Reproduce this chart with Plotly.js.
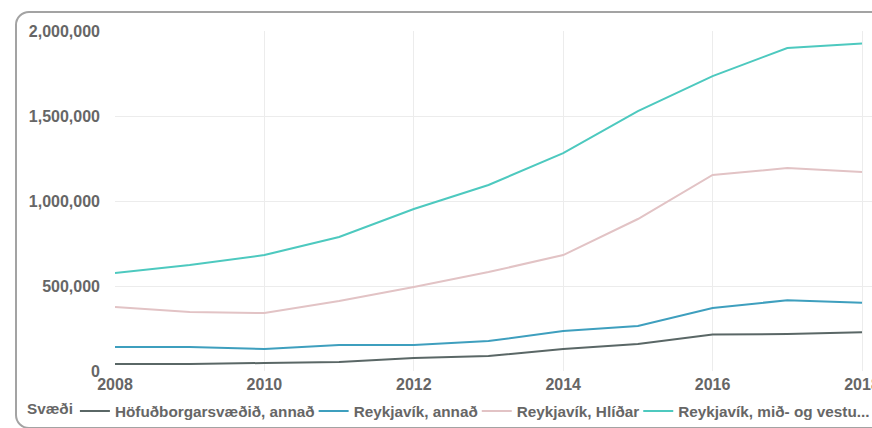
<!DOCTYPE html>
<html>
<head>
<meta charset="utf-8">
<script src="https://cdn.plot.ly/plotly-3.0.1.min.js"></script>
<style>
html,body{margin:0;padding:0;background:#fff;overflow:hidden;}
#wrap{position:relative;width:872px;height:428px;overflow:hidden;}
#chart{position:absolute;left:0;top:0;width:1100px;height:428px;}
#frame{position:absolute;left:15px;top:11px;width:900px;height:414px;border:2px solid #a3a3a3;border-radius:14px;pointer-events:none;}
</style>
</head>
<body>
<div id="wrap"><div id="chart"></div><div id="frame"></div></div>
<script>
const years = [2008, 2009, 2010, 2011, 2012, 2013, 2014, 2015, 2016, 2017, 2018];
const seriesNames = ["Höfuðborgarsvæðið, annað", "Reykjavík, annað", "Reykjavík, Hlíðar", "Reykjavík, mið- og vestu..."];
const hofudborgAnnad = [41000, 41000, 47000, 53000, 76000, 88000, 129000, 159000, 214000, 218000, 228000];
const reykjavikAnnad = [141000, 141000, 129000, 153000, 153000, 176000, 235000, 265000, 371000, 416000, 402000];
const reykjavikHlidar = [376000, 347000, 341000, 412000, 494000, 582000, 682000, 894000, 1153000, 1194000, 1170000];
const reykjavikMidVestur = [576000, 623000, 682000, 788000, 953000, 1094000, 1282000, 1529000, 1735000, 1900000, 1927000];
const colors = ["#5a6766", "#3e9fbe", "#e2c3c5", "#4dc9bf"];
const legendTitle = "Svæði";

const allValues = [hofudborgAnnad, reykjavikAnnad, reykjavikHlidar, reykjavikMidVestur];
const traces = allValues.map((vals, i) => ({
  type: "scatter",
  mode: "lines",
  x: years,
  y: vals,
  name: seriesNames[i],
  line: {color: colors[i], width: 2}
}));

// The original chart is wider than the visible window and cropped on the right:
// the plot area continues past the page edge, so the axis range runs past 2018.
const FIG_W = 1100, ML = 115, MR = 10, VISIBLE_END_PX = 862;
const pxPerYear = (VISIBLE_END_PX - ML) / (years[years.length - 1] - years[0]);
const xMax = years[0] + (FIG_W - ML - MR) / pxPerYear;

const font = {family: "Liberation Sans, Arial, sans-serif", size: 16, color: "#666666", weight: 700};
const legendFont = {family: "Liberation Sans, Arial, sans-serif", size: 15.3, color: "#666666", weight: 700};
const layout = {
  width: FIG_W, height: 428,
  margin: {l: ML, r: MR, t: 31, b: 57},
  paper_bgcolor: "#ffffff", plot_bgcolor: "#ffffff",
  font: font,
  showlegend: true,
  legend: {
    orientation: "h", xref: "container", yref: "container",
    x: 25 / FIG_W, xanchor: "left", y: 17 / 428, yanchor: "middle",
    indentation: -6,
    title: {text: legendTitle, side: "left", font: legendFont},
    font: legendFont, bgcolor: "rgba(0,0,0,0)", traceorder: "normal"
  },
  xaxis: {
    range: [years[0], xMax], dtick: 2, tick0: 2008, tickformat: "d",
    showgrid: true, gridcolor: "#ececec", zeroline: false, showline: false,
    tickfont: font, ticklabeloverflow: "allow", ticklabelstandoff: 2, fixedrange: true
  },
  yaxis: {
    range: [0, 2000000], dtick: 500000, tickformat: ",d",
    showgrid: true, gridcolor: "#ececec", zeroline: false, showline: false,
    tickfont: font, ticklabelstandoff: 14, fixedrange: true
  }
};
Plotly.newPlot("chart", traces, layout, {displayModeBar: false, staticPlot: true});
</script>
</body>
</html>
